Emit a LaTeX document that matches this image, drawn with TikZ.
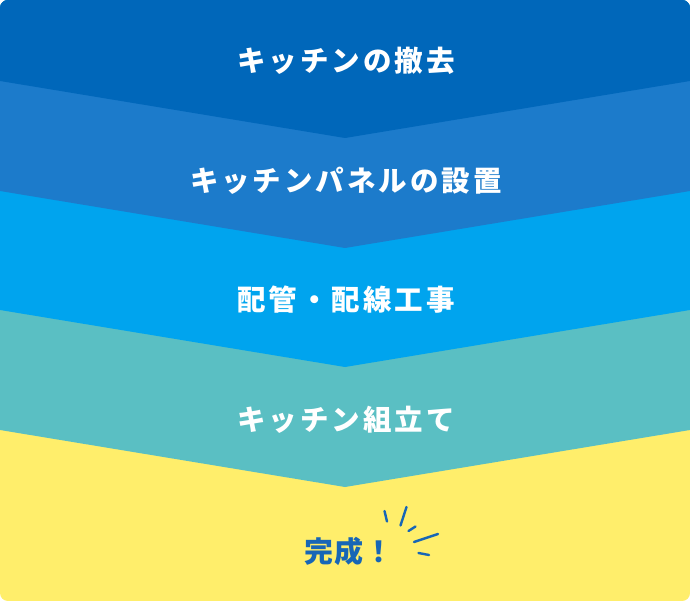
\documentclass[tikz,border=0pt]{standalone}
\usepackage{fontspec}
\newfontfamily\jp[LetterSpace=10.5]{Noto Sans CJK JP}
\newfontfamily\jpn[LetterSpace=5]{Noto Sans CJK JP}
\definecolor{bandA}{HTML}{0067BA}
\definecolor{bandB}{HTML}{1C7BCB}
\definecolor{bandC}{HTML}{00A4EE}
\definecolor{bandD}{HTML}{5ABFC3}
\definecolor{bandE}{HTML}{FFEE6B}
\definecolor{doneblue}{HTML}{1766B6}
\tikzset{
  steplabel/.style={text=white, font=\jp\bfseries\fontsize{28.5}{32}\selectfont, inner sep=0pt, anchor=center},
  donelabel/.style={text=doneblue, font=\jpn\bfseries\fontsize{29}{32}\selectfont, inner sep=0pt, anchor=center},
  burst/.style={draw=doneblue, line width=2.4pt, line cap=round}
}
\begin{document}
\begin{tikzpicture}[x=1pt,y=-1pt]
\useasboundingbox (0,0) rectangle (690,601);
\begin{scope}
\clip[rounded corners=8pt] (0,0) rectangle (690,601);
\fill[bandE] (0,0) rectangle (690,601);
\fill[bandD] (0,0) -- (690,0) -- (690,430) -- (345,487) -- (0,430) -- cycle;
\fill[bandC] (0,0) -- (690,0) -- (690,310) -- (345,367) -- (0,310) -- cycle;
\fill[bandB] (0,0) -- (690,0) -- (690,191) -- (345,248) -- (0,191) -- cycle;
\fill[bandA] (0,0) -- (690,0) -- (690,81) -- (345,138) -- (0,81) -- cycle;
\end{scope}
\node[steplabel] (s1) at (346,61) {キッチンの撤去};
\node[steplabel] (s2) at (346,181) {キッチンパネルの設置};
\node[steplabel] (s3) at (346,300) {配管・配線工事};
\node[steplabel] (s4) at (346,420) {キッチン組立て};
\node[donelabel] (s5) at (349,551) {完成！};
\coordinate (b1a) at (384.5,511); \coordinate (b1b) at (387,521.5);
\coordinate (b2a) at (406.5,507); \coordinate (b2b) at (400.5,525.5);
\coordinate (b3a) at (415.5,526.5); \coordinate (b3b) at (408.5,531);
\coordinate (b4a) at (438,534); \coordinate (b4b) at (414,542);
\coordinate (b5a) at (418.5,553); \coordinate (b5b) at (429,555);
\draw[burst] (b1a) -- (b1b);
\draw[burst] (b2a) -- (b2b);
\draw[burst] (b3a) -- (b3b);
\draw[burst] (b4a) -- (b4b);
\draw[burst] (b5a) -- (b5b);
\end{tikzpicture}
\end{document}
